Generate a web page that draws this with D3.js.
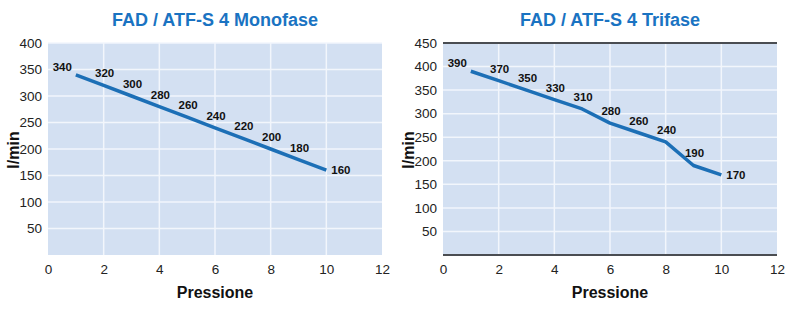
<!DOCTYPE html>
<html>
<head>
<meta charset="utf-8">
<script src="https://d3js.org/d3.v7.min.js"></script>
<style>
  body { margin: 0; background: #fff; }
  svg { display: block; font-family: "Liberation Sans", Arial, sans-serif; }
</style>
</head>
<body>
<svg id="chart" width="800" height="309"></svg>
<script>
// dati
let pressione = [1, 2, 3, 4, 5, 6, 7, 8, 9, 10]
let monofase = [340, 320, 300, 280, 260, 240, 220, 200, 180, 160]
let trifase = [390, 370, 350, 330, 310, 280, 260, 240, 190, 170]
let xTicks = [0, 2, 4, 6, 8, 10, 12]
let yTicksMono = [50, 100, 150, 200, 250, 300, 350, 400]
let yTicksTri = [50, 100, 150, 200, 250, 300, 350, 400, 450]
let titoli = ['FAD / ATF-S 4 Monofase', 'FAD / ATF-S 4 Trifase']

let svg = d3.select('#chart')

function drawPanel(cfg) {
  let g = svg.append('g')
  let x = d3.scaleLinear().domain([0, 12]).range([cfg.left, cfg.right])
  let y = d3.scaleLinear().domain([0, cfg.yMax]).range([255, 43])

  //sfondo
  g.append('rect')
    .attr('x', x(0)).attr('y', y(cfg.yMax))
    .attr('width', x(12) - x(0)).attr('height', y(0) - y(cfg.yMax))
    .attr('fill', '#d3e0f2')

  //griglia
  g.selectAll('.hg').data(cfg.yTicks).enter().append('line')
    .attr('x1', x(0)).attr('x2', x(12))
    .attr('y1', d => y(d)).attr('y2', d => y(d))
    .attr('stroke', '#f2f6fc').attr('stroke-width', 1.5)
  g.selectAll('.vg').data(xTicks.slice(1, -1)).enter().append('line')
    .attr('x1', d => x(d)).attr('x2', d => x(d))
    .attr('y1', y(0)).attr('y2', y(cfg.yMax))
    .attr('stroke', '#f2f6fc').attr('stroke-width', 1.5)

  if (cfg.frame) {
    [0, cfg.yMax].forEach(v => {
      g.append('line')
        .attr('x1', x(0)).attr('x2', x(12))
        .attr('y1', y(v)).attr('y2', y(v))
        .attr('stroke', '#4a4d52').attr('stroke-width', 2)
    })
  }

  //assi
  let xAxis = d3.axisBottom(x).tickValues(xTicks).tickSize(0).tickPadding(9)
  let yAxis = d3.axisLeft(y).tickValues(cfg.yTicks).tickSize(0).tickPadding(6)
  let gx = g.append('g').attr('transform', `translate(0, ${y(0)})`).call(xAxis)
  let gy = g.append('g').attr('transform', `translate(${x(0)}, 0)`).call(yAxis)
  ;[gx, gy].forEach(a => {
    a.select('.domain').remove()
    a.selectAll('text')
      .attr('font-family', '"Liberation Sans", Arial, sans-serif')
      .attr('font-size', 13.5).attr('fill', '#222')
  })

  //linea
  let line = d3.line().x((d, i) => x(pressione[i])).y(d => y(d))
  g.append('path')
    .datum(cfg.values)
    .attr('d', line)
    .attr('fill', 'none')
    .attr('stroke', '#1c6fb6')
    .attr('stroke-width', 3.5)
    .attr('stroke-linejoin', 'round')

  //etichette
  let n = cfg.values.length
  g.selectAll('.lbl').data(cfg.values).enter().append('text')
    .text(d => d)
    .attr('x', (d, i) => i === 0 ? x(pressione[i]) - 4 : i === n - 1 ? x(pressione[i]) + 5 : x(pressione[i]) + 1)
    .attr('y', (d, i) => i === 0 ? y(d) - 4 : i === n - 1 ? y(d) + 4 : y(d) - 8)
    .attr('text-anchor', (d, i) => i === 0 ? 'end' : i === n - 1 ? 'start' : 'middle')
    .attr('font-size', 11.5).attr('font-weight', 'bold').attr('fill', '#111')

  //titoli
  let cx = (x(0) + x(12)) / 2
  g.append('text')
    .text(cfg.title)
    .attr('x', cx).attr('y', 26)
    .attr('text-anchor', 'middle')
    .attr('font-size', 18).attr('font-weight', 'bold').attr('fill', '#1a73c2')
  g.append('text')
    .text('Pressione')
    .attr('x', cx).attr('y', 298)
    .attr('text-anchor', 'middle')
    .attr('font-size', 16).attr('font-weight', 'bold').attr('fill', '#111')
  g.append('text')
    .text('l/min')
    .attr('transform', `translate(${cfg.left - 29}, 150) rotate(-90)`)
    .attr('text-anchor', 'middle')
    .attr('font-size', 16).attr('font-weight', 'bold').attr('fill', '#111')
}

drawPanel({left: 48, right: 382, yMax: 400, yTicks: yTicksMono, values: monofase, title: titoli[0], frame: false})
drawPanel({left: 443, right: 777, yMax: 450, yTicks: yTicksTri, values: trifase, title: titoli[1], frame: true})
</script>
</body>
</html>
